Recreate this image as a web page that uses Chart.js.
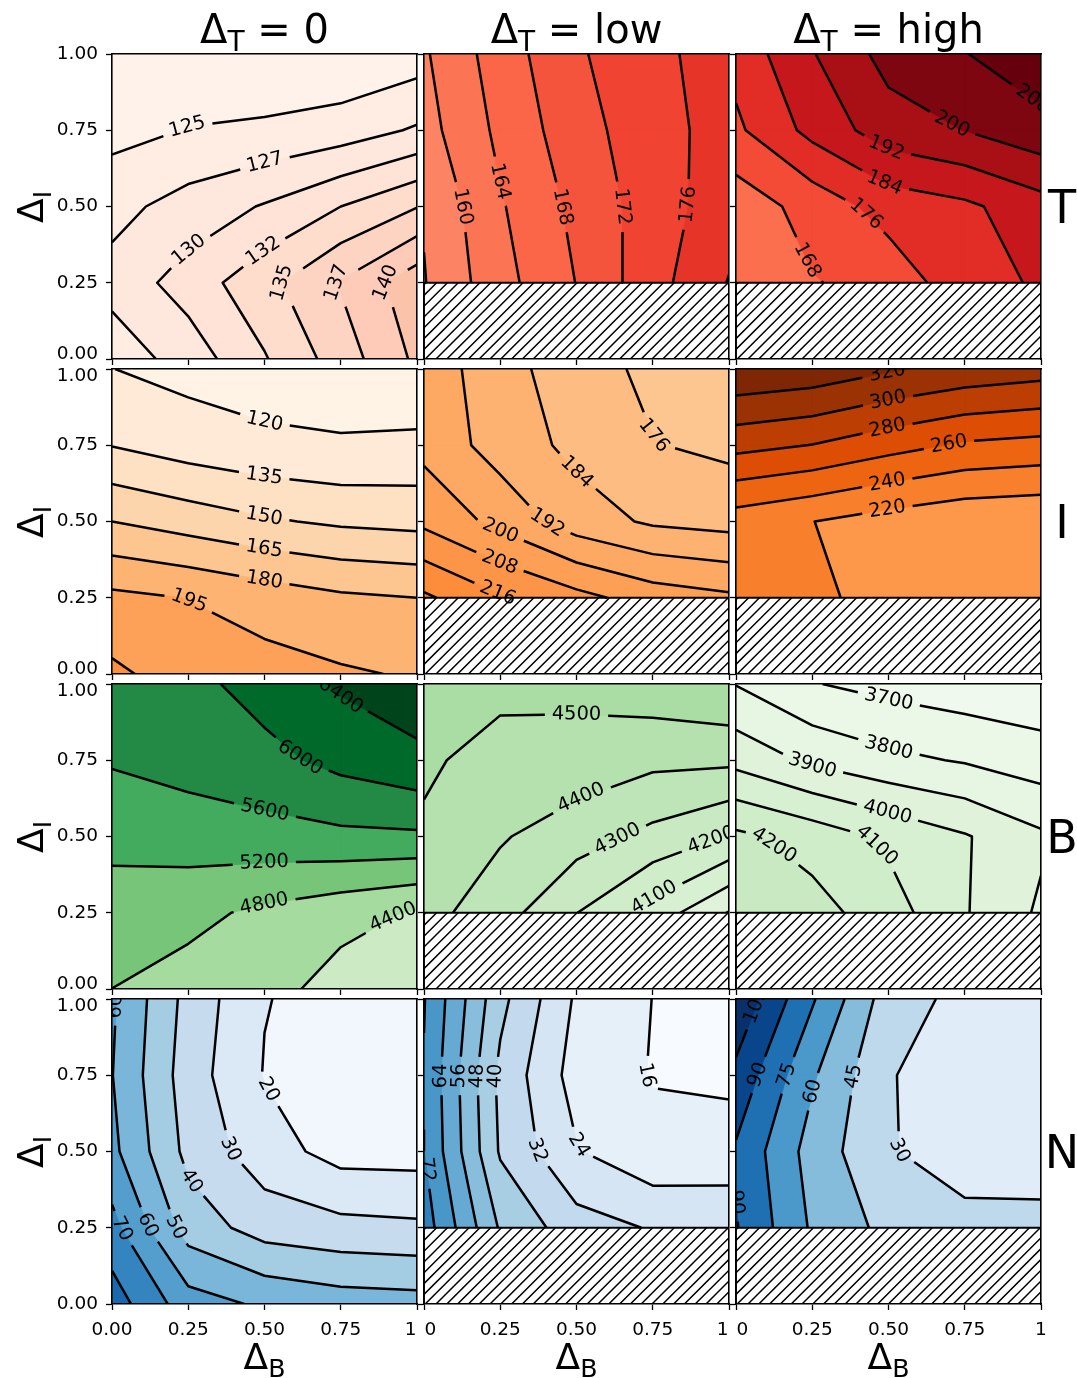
<!DOCTYPE html>
<html>
<head>
<meta charset="utf-8">
<title>Contour grid</title>
<script src="https://cdn.jsdelivr.net/npm/chart.js@4/dist/chart.umd.min.js"></script>
<style>
html,body{margin:0;padding:0;background:#fff;}
#fig{position:relative;width:1077px;height:1378px;background:#fff;overflow:hidden;font-family:"DejaVu Sans",sans-serif;color:#000;}
#fig canvas{position:absolute;}
.lbl{position:absolute;white-space:nowrap;line-height:1;transform:translate(-50%,-50%);}
.sub{font-size:0.7em;position:relative;top:0.3em;}
</style>
</head>
<body>
<div id="fig"></div>
<script>
/* ================= DATA ================= */
const deltaB = [0, 0.25, 0.5, 0.75, 1];
const deltaI = [0, 0.25, 0.5, 0.75, 1];
const tickValues = [0, 0.25, 0.5, 0.75, 1];
const xTickLabelsFirst = ["0.00", "0.25", "0.50", "0.75", "1"];
const xTickLabelsOther = ["0", "0.25", "0.50", "0.75", "1"];
const yTickLabels = ["0.00", "0.25", "0.50", "0.75", "1.00"];
const columnTitles = ["0", "low", "high"];
const rowNames = ["T", "I", "B", "N"];
const noDataBelowI = 0.25;

/* grids: rows = ΔI from 0 to 1, columns = ΔB from 0 to 1 (null = no data) */
const T_zero = [
  [126.0, 128.6, 132.3, 136.2, 140.5],
  [128.4, 131.1, 134.2, 137.7, 141.6],
  [126.7, 128.5, 130.2, 132.5, 134.9],
  [124.2, 125.1, 125.5, 126.2, 127.8],
  [123.5, 123.0, 122.6, 122.8, 123.7]
];
const T_low = [
  [null, null, null, null, null],
  [155.8, 162.6, 168.1, 174.5, 180.2],
  [156.3, 163.6, 169.0, 174.0, 178.3],
  [158.5, 164.9, 170.4, 174.4, 177.7],
  [159.5, 166.0, 171.4, 175.3, 177.3]
];
const T_high = [
  [null, null, null, null, null],
  [163.0, 167.5, 171.0, 180.8, 185.0],
  [163.4, 171.0, 179.3, 182.4, 188.75],
  [174.5, 186.4, 196.3, 200.15, 205.3],
  [178.7, 191.5, 202.9, 207.7, 213.5]
];
const I_zero = [
  [213.0, 203.0, 200.7, 196.9, 193.5],
  [198.6, 194.7, 188.3, 182.5, 180.0],
  [165.0, 158.3, 151.8, 147.6, 145.6],
  [134.5, 127.75, 123.4, 121.35, 123.0],
  [120.2, 115.4, 112.4, 112.9, 108.8]
];
const I_low = [
  [null, null, null, null, null],
  [225.4, 216.8, 210.5, 204.3, 201.5],
  [206.2, 197.6, 187.8, 182.8, 181.1],
  [197.7, 188.5, 181.9, 176.3, 174.35],
  [196.9, 187.0, 179.6, 174.1, 171.0]
];
const I_high = [
  [null, null, null, null, null],
  [228.0, 226.0, 209.9, 205.0, 203.0],
  [229.5, 220.3, 211.0, 204.1, 201.9],
  [286.3, 279.5, 267.5, 257.2, 253.6],
  [338.0, 333.3, 322.5, 313.7, 308.4]
];
const B_zero = [
  [4798, 4640, 4560, 4228, 4100],
  [5050, 4910, 4715, 4542, 4363],
  [5293, 5397, 5455, 5514, 5534],
  [5640, 5747, 5880, 6119, 6305],
  [5750, 5880, 6161, 6453, 6644]
];
const B_low = [
  [null, null, null, null, null],
  [4435.5, 4342, 4202, 4060, 3894],
  [4484, 4409.8, 4343.6, 4272, 4193],
  [4517, 4460, 4461, 4424, 4420.7],
  [4540, 4528, 4526, 4560, 4595]
];
const B_high = [
  [null, null, null, null, null],
  [4260, 4238.6, 4145.8, 4007.8, 3883.8],
  [4222, 4159, 4080, 4008.7, 3917],
  [3969, 3880, 3825, 3791.3, 3747],
  [3796.5, 3705, 3668, 3641, 3626]
];
const N_zero = [
  [85.2, 64.4, 58.4, 55.0, 54.0],
  [73.3, 45.5, 35.7, 33.0, 31.9],
  [62.5, 37.1, 24.4, 16.25, 16.0],
  [60.3, 34.8, 19.5, 15.0, 14.0],
  [61.4, 36.6, 20.4, 16.5, 14.0]
];
const N_low = [
  [null, null, null, null, null],
  [76.0, 47.1, 35.4, 31.4, 30.0],
  [72.2, 39.1, 24.5, 18.0, 19.2],
  [71.5, 38.0, 20.6, 15.6, 14.5],
  [72.4, 42.3, 22.8, 15.9, 14.0]
];
const N_high = [
  [null, null, null, null, null],
  [91.0, 58.0, 40.5, 36.0, 34.0],
  [88.0, 53.8, 31.5, 20.8, 23.2],
  [101.3, 62.0, 31.0, 22.0, 22.0],
  [117.1, 76.7, 37.4, 25.5, 24.0]
];

/* contour levels */
const T_zero_levels = [120, 122.5, 125, 127.5, 130, 132.5, 135, 137.5, 140, 142.5];
const T_low_levels = [152, 156, 160, 164, 168, 172, 176, 180, 184];
const T_high_levels = [160, 168, 176, 184, 192, 200, 208, 216];
const I_zero_levels = [105, 120, 135, 150, 165, 180, 195, 210, 225];
const I_low_levels = [168, 176, 184, 192, 200, 208, 216, 224, 232];
const I_high_levels = [200, 220, 240, 260, 280, 300, 320, 340];
const B_zero_levels = [4000, 4400, 4800, 5200, 5600, 6000, 6400, 6800];
const B_low_levels = [3800, 3900, 4000, 4100, 4200, 4300, 4400, 4500, 4600];
const B_high_levels = [3600, 3700, 3800, 3900, 4000, 4100, 4200, 4300];
const N_zero_levels = [10, 20, 30, 40, 50, 60, 70, 80, 90];
const N_low_levels = [8, 16, 24, 32, 40, 48, 56, 64, 72, 80];
const N_high_levels = [15, 30, 45, 60, 75, 90, 105, 120];

/* inline contour labels: [level, ΔB, ΔI] (approximate label spot) */
const T_zero_labels = [[125,0.248,0.757],[127.5,0.5,0.648],[130,0.248,0.364],[132.5,0.488,0.364],[135,0.548,0.255],[137.5,0.728,0.255],[140,0.891,0.255]];
const T_low_labels = [[160,0.133,0.5],[164,0.248,0.582],[168,0.467,0.5],[172,0.675,0.5],[176,0.877,0.506]];
const T_high_labels = [[168,0.25,0.331],[176,0.446,0.495],[184,0.496,0.593],[192,0.496,0.697],[200,0.698,0.752],[208,0.976,0.856]];
const I_zero_labels = [[120,0.499,0.82],[135,0.499,0.65],[150,0.499,0.517],[165,0.499,0.41],[180,0.499,0.306],[195,0.248,0.23]];
const I_low_labels = [[176,0.719,0.743],[184,0.495,0.656],[192,0.407,0.503],[200,0.248,0.464],[208,0.248,0.366],[216,0.248,0.279]];
const I_high_labels = [[320,0.496,0.989],[300,0.496,0.907],[280,0.496,0.809],[260,0.698,0.754],[240,0.496,0.628],[220,0.496,0.541]];
const B_zero_labels = [[6400,0.75,0.962],[6000,0.613,0.754],[5600,0.499,0.574],[5200,0.499,0.415],[4800,0.499,0.279],[4400,0.913,0.251]];
const B_low_labels = [[4500,0.5,0.923],[4400,0.5,0.667],[4300,0.626,0.508],[4200,0.943,0.486],[4100,0.746,0.317]];
const B_high_labels = [[3700,0.501,0.951],[3800,0.501,0.792],[3900,0.25,0.732],[4000,0.501,0.596],[4100,0.501,0.503],[4200,0.141,0.492]];
const N_zero_labels = [[60,0.014,0.976],[20,0.504,0.698],[30,0.363,0.502],[40,0.254,0.398],[50,0.21,0.251],[60,0.112,0.256],[70,0.03,0.245]];
const N_low_labels = [[64,0.03,0.747],[56,0.095,0.747],[48,0.161,0.747],[40,0.226,0.747],[32,0.363,0.502],[24,0.484,0.507],[16,0.708,0.75],[72,0.019,0.442]];
const N_high_labels = [[105,0.059,0.981],[90,0.07,0.752],[75,0.163,0.752],[60,0.245,0.698],[45,0.381,0.747],[30,0.496,0.502],[90,0.015,0.414]];

/* colour range per row (value -> colormap) */
const T_range = [122, 208];
const I_range = [108, 330];
const B_range = [3500, 6550];
const N_range = [12, 105];

/* ================= STYLE / LAYOUT ================= */
const Reds = ["#fff5f0","#fee0d2","#fcbba1","#fc9272","#fb6a4a","#ef3b2c","#cb181d","#a50f15","#67000d"];
const Oranges = ["#fff5eb","#fee6ce","#fdd0a2","#fdae6b","#fd8d3c","#f16913","#d94801","#a63603","#7f2704"];
const Greens = ["#f7fcf5","#e5f5e0","#c7e9c0","#a1d99b","#74c476","#41ab5d","#238b45","#006d2c","#00441b"];
const Blues = ["#f7fbff","#deebf7","#c6dbef","#9ecae1","#6baed6","#4292c6","#2171b5","#08519c","#08306b"];

const COL_LEFT = [112, 424, 736];
const ROW_TOP = [54, 369, 684, 999];
const PW = 305, PH = 305;
const PAD = {l: 75, r: 34, t: 40, b: 56};
const FONT = '"DejaVu Sans", sans-serif';
const LABEL_FS = 19.4, TICK_FS = 18.5;
const LINE_W = 2.5, GAP_PAD = 7, FRAME_W = 1.6;
const HATCH_STEP = 10.8, HATCH_W = 1.5;
const EDGE_NUDGE_X = '\u2002\u2009';   /* pushes end labels away from the neighbouring panel */

const PANELS = [
  {row:0, col:0, z:T_zero, levels:T_zero_levels, labels:T_zero_labels, cmap:Reds, range:T_range},
  {row:0, col:1, z:T_low, levels:T_low_levels, labels:T_low_labels, cmap:Reds, range:T_range},
  {row:0, col:2, z:T_high, levels:T_high_levels, labels:T_high_labels, cmap:Reds, range:T_range},
  {row:1, col:0, z:I_zero, levels:I_zero_levels, labels:I_zero_labels, cmap:Oranges, range:I_range},
  {row:1, col:1, z:I_low, levels:I_low_levels, labels:I_low_labels, cmap:Oranges, range:I_range},
  {row:1, col:2, z:I_high, levels:I_high_levels, labels:I_high_labels, cmap:Oranges, range:I_range},
  {row:2, col:0, z:B_zero, levels:B_zero_levels, labels:B_zero_labels, cmap:Greens, range:B_range},
  {row:2, col:1, z:B_low, levels:B_low_levels, labels:B_low_labels, cmap:Greens, range:B_range},
  {row:2, col:2, z:B_high, levels:B_high_levels, labels:B_high_labels, cmap:Greens, range:B_range},
  {row:3, col:0, z:N_zero, levels:N_zero_levels, labels:N_zero_labels, cmap:Blues, range:N_range},
  {row:3, col:1, z:N_low, levels:N_low_levels, labels:N_low_labels, cmap:Blues, range:N_range},
  {row:3, col:2, z:N_high, levels:N_high_levels, labels:N_high_labels, cmap:Blues, range:N_range}
];

/* ================= HELPERS ================= */
function hexRgb(h){return [parseInt(h.slice(1,3),16),parseInt(h.slice(3,5),16),parseInt(h.slice(5,7),16)];}
function cmapColor(anchors,t){
  t=Math.max(0,Math.min(1,t));
  const n=anchors.length-1; const f=t*n; let i=Math.floor(f); if(i>=n) i=n-1;
  const u=f-i; const a=hexRgb(anchors[i]), b=hexRgb(anchors[i+1]);
  return 'rgb('+a.map((c,k)=>Math.round(c+u*(b[k]-c))).join(',')+')';
}
function cellAt(Z,i,j){
  const r0=Z[j], r1=Z[j+1];
  const v=[r0[i],r0[i+1],r1[i+1],r1[i]];
  if(v.some(q=>q===null||q===undefined)) return null;
  return [[deltaB[i],deltaI[j],v[0]],[deltaB[i+1],deltaI[j],v[1]],[deltaB[i+1],deltaI[j+1],v[2]],[deltaB[i],deltaI[j+1],v[3]]];
}
function clipPoly(poly,level,keepAbove){
  const out=[]; const n=poly.length;
  for(let k=0;k<n;k++){
    const A=poly[k], B=poly[(k+1)%n];
    const ina=keepAbove?A[2]>=level:A[2]<=level;
    const inb=keepAbove?B[2]>=level:B[2]<=level;
    if(ina) out.push(A);
    if(ina!==inb){const t=(level-A[2])/(B[2]-A[2]); out.push([A[0]+t*(B[0]-A[0]),A[1]+t*(B[1]-A[1]),level]);}
  }
  return out;
}
function bandPolys(Z,lo,hi){
  const out=[];
  for(let j=0;j<deltaI.length-1;j++) for(let i=0;i<deltaB.length-1;i++){
    const c=cellAt(Z,i,j); if(!c) continue;
    let p=clipPoly(c,lo,true); if(p.length<3) continue;
    p=clipPoly(p,hi,false); if(p.length<3) continue;
    out.push(p);
  }
  return out;
}
function contourPaths(Z,lev){
  const pts={}, segs=[];
  const EDGE=[[0,1],[1,2],[3,2],[0,3]];
  const CORNER_EDGES=[[0,3],[0,1],[1,2],[2,3]];
  for(let j=0;j<deltaI.length-1;j++) for(let i=0;i<deltaB.length-1;i++){
    const c=cellAt(Z,i,j); if(!c) continue;
    const keys=['h'+i+'_'+j,'v'+(i+1)+'_'+j,'h'+i+'_'+(j+1),'v'+i+'_'+j];
    const up=c.map(q=>q[2]>=lev);
    const cross=[];
    for(let e=0;e<4;e++){
      const a=EDGE[e][0], b=EDGE[e][1];
      if(up[a]!==up[b]){
        if(!pts[keys[e]]){const A=c[a],B=c[b];const t=(lev-A[2])/(B[2]-A[2]);pts[keys[e]]=[A[0]+t*(B[0]-A[0]),A[1]+t*(B[1]-A[1])];}
        cross.push(e);
      }
    }
    if(cross.length===2) segs.push([keys[cross[0]],keys[cross[1]]]);
    else if(cross.length===4){
      const cu=(c[0][2]+c[1][2]+c[2][2]+c[3][2])/4>=lev;
      for(let k=0;k<4;k++) if(up[k]!==cu) segs.push([keys[CORNER_EDGES[k][0]],keys[CORNER_EDGES[k][1]]]);
    }
  }
  const adj={}; segs.forEach((s,idx)=>{(adj[s[0]]=adj[s[0]]||[]).push(idx);(adj[s[1]]=adj[s[1]]||[]).push(idx);});
  const used=new Array(segs.length).fill(false);
  const paths=[];
  function walk(start){
    const path=[start]; let cur=start;
    while(true){
      const nx=(adj[cur]||[]).find(idx=>!used[idx]);
      if(nx===undefined) break;
      used[nx]=true; const s=segs[nx]; cur=(s[0]===cur)?s[1]:s[0]; path.push(cur);
    }
    return path.map(k=>pts[k]);
  }
  Object.keys(adj).forEach(k=>{ if(adj[k].length===1 && !used[adj[k][0]]) paths.push(walk(k)); });
  segs.forEach((s,idx)=>{ if(!used[idx]) paths.push(walk(s[0])); });
  return paths.filter(p=>p.length>=2);
}
function fmtLevel(l){return String(Math.trunc(l));}

/* prepare geometry */
PANELS.forEach(p=>{
  p.bands=[];
  for(let k=0;k<p.levels.length-1;k++){
    const lo=p.levels[k], hi=p.levels[k+1];
    const polys=bandPolys(p.z,lo,hi);
    if(!polys.length) continue;
    const t=((lo+hi)/2-p.range[0])/(p.range[1]-p.range[0]);
    p.bands.push({polys, color:cmapColor(p.cmap,t)});
  }
  p.lines={};
  p.levels.forEach(l=>{const ps=contourPaths(p.z,l); if(ps.length) p.lines[l]=ps;});
  p.hatch=p.z[0].some(v=>v===null);
  p.placed=[];
});

function buildDatasets(p){
  return Object.keys(p.lines).map(Number).sort((a,b)=>a-b).map(l=>{
    const data=[];
    p.lines[l].forEach(pl=>{pl.forEach(q=>data.push({x:q[0],y:q[1]})); data.push({x:null,y:null});});
    return {label:fmtLevel(l), data, showLine:true, borderColor:'#000', borderWidth:LINE_W,
      pointRadius:0, pointHoverRadius:0, pointHitRadius:0, fill:false, spanGaps:false,
      borderJoinStyle:'round', borderCapStyle:'butt', tension:0};
  });
}

function fillPlugin(p){
  return {id:'fills'+p.row+p.col, beforeDatasetsDraw(chart){
    const {ctx, chartArea:ca, scales:{x, y}}=chart;
    ctx.save();
    ctx.beginPath(); ctx.rect(ca.left,ca.top,ca.right-ca.left,ca.bottom-ca.top); ctx.clip();
    p.bands.forEach(b=>{
      ctx.beginPath();
      b.polys.forEach(poly=>{poly.forEach((q,k)=>{const px=x.getPixelForValue(q[0]),py=y.getPixelForValue(q[1]); if(k===0) ctx.moveTo(px,py); else ctx.lineTo(px,py);}); ctx.closePath();});
      ctx.fillStyle=b.color; ctx.fill();
      ctx.strokeStyle=b.color; ctx.lineWidth=1; ctx.lineJoin='round'; ctx.stroke();
    });
    if(p.hatch){
      const x0=x.getPixelForValue(0), x1=x.getPixelForValue(1), y0=y.getPixelForValue(0), y1=y.getPixelForValue(noDataBelowI);
      ctx.fillStyle='#fff'; ctx.fillRect(x0,y1,x1-x0,y0-y1);
      ctx.save(); ctx.beginPath(); ctx.rect(x0,y1,x1-x0,y0-y1); ctx.clip();
      ctx.strokeStyle='#000'; ctx.lineWidth=HATCH_W; ctx.beginPath();
      const cStart=Math.floor((x0+y1)/HATCH_STEP)*HATCH_STEP;
      for(let c=cStart;c<=x1+y0+HATCH_STEP;c+=HATCH_STEP){ctx.moveTo(c-y0,y0); ctx.lineTo(c-y1,y1);}
      ctx.stroke(); ctx.restore();
      ctx.strokeStyle='#000'; ctx.lineWidth=1.8; ctx.strokeRect(x0,y1,x1-x0,y0-y1);
    }
    ctx.restore();
  }};
}
function labelPlugin(p){
  return {id:'labels'+p.row+p.col, afterDatasetsDraw(chart){
    const {ctx, chartArea:ca, scales:{x, y}}=chart;
    ctx.save();
    ctx.beginPath(); ctx.rect(ca.left,ca.top,ca.right-ca.left,ca.bottom-ca.top); ctx.clip();
    ctx.font=LABEL_FS+'px '+FONT; ctx.fillStyle='#000'; ctx.textAlign='center'; ctx.textBaseline='middle';
    p.placed.forEach(L=>{
      ctx.save(); ctx.translate(x.getPixelForValue(L.x), y.getPixelForValue(L.y)); ctx.rotate(L.ang); ctx.fillText(L.text,0,0); ctx.restore();
    });
    ctx.restore();
  }};
}

function applyLabels(chart,p){
  const xs=chart.scales.x, ys=chart.scales.y, ctx=chart.ctx;
  ctx.save(); ctx.font=LABEL_FS+'px '+FONT;
  p.labels.forEach(([lev,lx,ly])=>{
    const lines=p.lines[lev]; if(!lines||!lines.length) return;
    const tx=xs.getPixelForValue(lx), ty=ys.getPixelForValue(ly);
    let best=null;
    lines.forEach((pl,pi)=>{
      const P=pl.map(q=>[xs.getPixelForValue(q[0]),ys.getPixelForValue(q[1])]);
      let s=0;
      for(let k=0;k<P.length-1;k++){
        const a=P[k], b=P[k+1]; const dx=b[0]-a[0], dy=b[1]-a[1]; const L=Math.hypot(dx,dy);
        let t=L>0?((tx-a[0])*dx+(ty-a[1])*dy)/(L*L):0; t=Math.max(0,Math.min(1,t));
        const px=a[0]+t*dx, py=a[1]+t*dy; const d=Math.hypot(px-tx,py-ty);
        if(!best||d<best.d) best={d,pi,s:s+t*L,px,py,P};
        s+=L;
      }
    });
    if(!best) return;
    const text=fmtLevel(lev); const w=ctx.measureText(text).width;
    const P=best.P; const cum=[0];
    for(let k=0;k<P.length-1;k++) cum.push(cum[k]+Math.hypot(P[k+1][0]-P[k][0],P[k+1][1]-P[k][1]));
    const total=cum[cum.length-1];
    const at=s=>{s=Math.max(0,Math.min(total,s)); for(let k=0;k<P.length-1;k++){ if(s<=cum[k+1]||k===P.length-2){const L=cum[k+1]-cum[k]; const t=L>0?(s-cum[k])/L:0; return [P[k][0]+t*(P[k+1][0]-P[k][0]),P[k][1]+t*(P[k+1][1]-P[k][1])];}} return P[P.length-1];};
    const piece=(sa,sb)=>{ if(sb-sa<0.5) return null; const out=[at(sa)]; for(let k=0;k<P.length;k++) if(cum[k]>sa&&cum[k]<sb) out.push(P[k]); out.push(at(sb)); return out;};
    const a=at(best.s-w/2), b=at(best.s+w/2);
    let ang=Math.atan2(b[1]-a[1],b[0]-a[0]);
    if(ang>Math.PI/2) ang-=Math.PI; if(ang<-Math.PI/2) ang+=Math.PI;
    const half=w/2+GAP_PAD;
    const parts=[piece(0,best.s-half),piece(best.s+half,total)].filter(Boolean)
      .map(pp=>pp.map(q=>[xs.getValueForPixel(q[0]),ys.getValueForPixel(q[1])]));
    lines.splice(best.pi,1,...parts);
    p.placed.push({x:xs.getValueForPixel(best.px), y:ys.getValueForPixel(best.py), ang, text});
  });
  ctx.restore();
}

/* ================= BUILD ================= */
const fig=document.getElementById('fig');
const lastRow=ROW_TOP.length-1, lastCol=COL_LEFT.length-1, lastTick=tickValues.length-1;
PANELS.forEach(p=>{
  const cv=document.createElement('canvas');
  const W=PAD.l+PW+PAD.r, H=PAD.t+PH+PAD.b;
  cv.width=W; cv.height=H;
  cv.style.width=W+'px'; cv.style.height=H+'px';
  cv.style.left=(COL_LEFT[p.col]-PAD.l)+'px'; cv.style.top=(ROW_TOP[p.row]-PAD.t)+'px';
  fig.appendChild(cv);
  const showX=p.row===lastRow, showY=p.col===0;
  const xLabels=p.col===0?xTickLabelsFirst:xTickLabelsOther;
  /* end labels next to a neighbouring panel are nudged away from it */
  const xLabel=(v,i)=>{
    const t=xLabels[i];
    if(i===lastTick && p.col<lastCol) return t+EDGE_NUDGE_X;
    if(i===0 && p.col>0) return EDGE_NUDGE_X+t;
    return t;
  };
  const yLabel=(v,i)=>{
    const t=yTickLabels[i];
    if(i===lastTick && p.row>0) return ['', t];
    if(i===0 && p.row<lastRow) return [t, ''];
    return t;
  };
  const yFont=ctx=>({family:FONT, size:TICK_FS, lineHeight: ctx.index===lastTick ? 14/TICK_FS : 10/TICK_FS});
  const gridOpts={display:true, drawOnChartArea:false, drawTicks:true, tickLength:6, tickWidth:1.3, tickColor:'#000', color:'#000'};
  const frameOpts={display:true, color:'#000', width:FRAME_W, z:1};
  const setTicks=s=>{s.ticks=tickValues.map(v=>({value:v}));};
  const chart=new Chart(cv.getContext('2d'),{
    type:'scatter',
    data:{datasets:buildDatasets(p)},
    options:{
      responsive:false, animation:false, devicePixelRatio:1, events:[],
      layout:{padding:0, autoPadding:false},
      plugins:{legend:{display:false}, tooltip:{enabled:false}, title:{display:false}},
      scales:{
        x:{type:'linear', position:'bottom', min:0, max:1, afterBuildTicks:setTicks, afterFit:s=>{s.height=PAD.b;},
           ticks:{display:showX, font:{family:FONT,size:TICK_FS}, color:'#000', padding:9, maxRotation:0, autoSkip:false, callback:xLabel},
           grid:gridOpts, border:frameOpts},
        y:{type:'linear', position:'left', min:0, max:1, afterBuildTicks:setTicks, afterFit:s=>{s.width=PAD.l;},
           ticks:{display:showY, font:yFont, color:'#000', padding:8, autoSkip:false, callback:yLabel},
           grid:gridOpts, border:frameOpts},
        x2:{type:'linear', position:'top', min:0, max:1, afterFit:s=>{s.height=PAD.t;},
           ticks:{display:false}, grid:{display:true, drawOnChartArea:false, drawTicks:false}, border:frameOpts},
        y2:{type:'linear', position:'right', min:0, max:1, afterFit:s=>{s.width=PAD.r;},
           ticks:{display:false}, grid:{display:true, drawOnChartArea:false, drawTicks:false}, border:frameOpts}
      }
    },
    plugins:[fillPlugin(p), labelPlugin(p)]
  });
  applyLabels(chart,p);
  chart.data.datasets=buildDatasets(p);
  chart.update('none');
});

/* ================= TEXT ================= */
function addText(html,x,y,size,rot){
  const d=document.createElement('div'); d.className='lbl'; d.innerHTML=html;
  d.style.left=x+'px'; d.style.top=y+'px'; d.style.fontSize=size+'px';
  if(rot) d.style.transform='translate(-50%,-50%) rotate('+rot+'deg)';
  fig.appendChild(d);
}
columnTitles.forEach((t,c)=>addText('Δ<span class="sub">T</span> = '+t, COL_LEFT[c]+PW/2, 29, 40));
rowNames.forEach((t,r)=>addText(t, 1062, ROW_TOP[r]+PH/2, 46));
rowNames.forEach((t,r)=>addText('Δ<span class="sub">I</span>', 31, ROW_TOP[r]+PH/2, 36, -90));
columnTitles.forEach((t,c)=>addText('Δ<span class="sub">B</span>', COL_LEFT[c]+PW/2, 1357, 36));
</script>
</body>
</html>
